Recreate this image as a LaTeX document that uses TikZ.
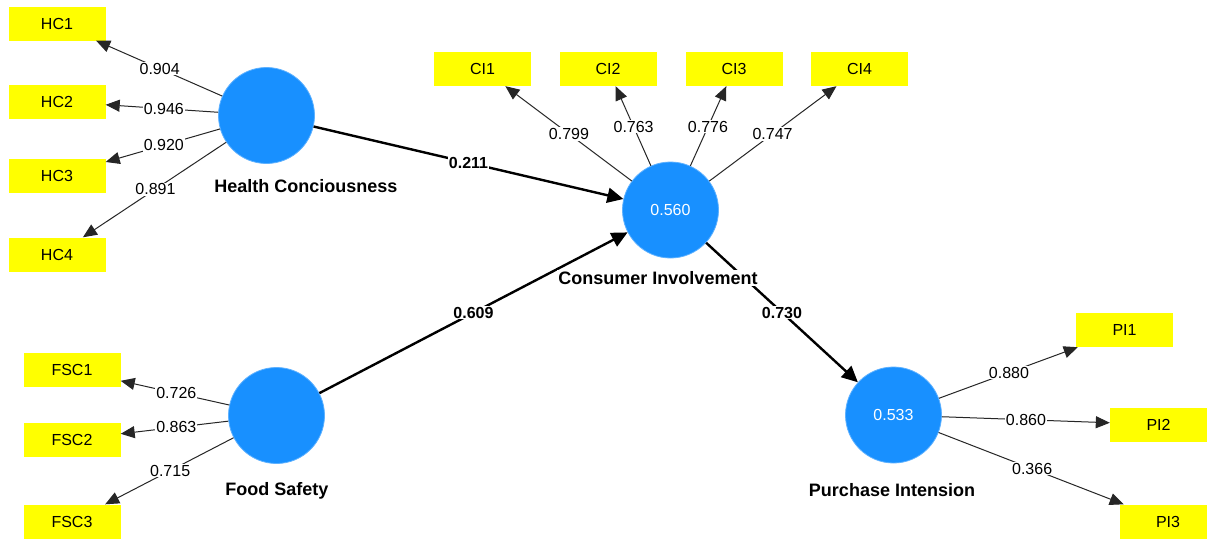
\documentclass[tikz,border=0pt]{standalone}
\usepackage{fontspec}
\setmainfont{Liberation Sans}
\usetikzlibrary{arrows.meta,calc}
\definecolor{lvblue}{RGB}{24,144,255}
\definecolor{indyellow}{RGB}{255,255,0}
\tikzset{
  latent/.style={circle, fill=lvblue, draw=lvblue!70!white, line width=0.8pt,
    minimum size=96pt, inner sep=0pt, text=white, font=\fontsize{16}{19}\selectfont},
  indicator/.style={rectangle, fill=indyellow, minimum width=97pt, minimum height=34pt,
    inner sep=0pt, font=\fontsize{16}{19}\selectfont},
  lvname/.style={fill=white, font=\fontsize{18}{21}\selectfont\bfseries, inner sep=1pt},
  loading/.style={draw=black!85, line width=1pt,
    -{Triangle[length=14pt,width=12pt]}},
  pathcoef/.style={draw=black, line width=2.4pt,
    -{Triangle[length=16pt,width=15pt]}},
  wlab/.style={fill=white, inner sep=1pt, font=\fontsize{16}{19}\selectfont},
  blab/.style={fill=white, inner sep=1pt, font=\fontsize{16}{19}\selectfont\bfseries},
}
\begin{document}
\begin{tikzpicture}[x=1pt,y=-1pt]
\clip (0,0) rectangle (1207,539);
\fill[white] (0,0) rectangle (1207,539);

% latent variables
\node[latent] (hc) at (266.5,115.5) {};
\node[latent] (ci) at (670.5,210) {0.560};
\node[latent] (fs) at (276.5,415.5) {};
\node[latent] (pi) at (893.5,415) {0.533};

% indicators
\node[indicator] (hc1) at (57,23.5) {HC1};
\node[indicator] (hc2) at (57,101.5) {HC2};
\node[indicator] (hc3) at (57,176) {HC3};
\node[indicator] (hc4) at (57,254.5) {HC4};

\node[indicator] (ci1) at (482.5,69) {CI1};
\node[indicator] (ci2) at (608,69) {CI2};
\node[indicator] (ci3) at (734,69) {CI3};
\node[indicator] (ci4) at (859.5,69) {CI4};

\node[indicator] (fsc1) at (72,370) {FSC1};
\node[indicator] (fsc2) at (72,439.5) {FSC2};
\node[indicator] (fsc3) at (72,521.5) {FSC3};

\node[indicator] (pi1) at (1124.5,330) {PI1};
\node[indicator] (pi2) at (1158.5,424.5) {PI2};
\node[indicator] (pi3) at (1168,521.5) {PI3};

% outer loadings; each weight sits on the centre-to-centre line
\draw[loading] (hc) -- (hc1) node[wlab] at ($(hc)!0.51!(hc1)$) {0.904};
\draw[loading] (hc) -- (hc2) node[wlab] at ($(hc)!0.49!(hc2)$) {0.946};
\draw[loading] (hc) -- (hc3) node[wlab] at ($(hc)!0.49!(hc3)$) {0.920};
\draw[loading] (hc) -- (hc4) node[wlab] at ($(hc)!0.53!(hc4)$) {0.891};

\draw[loading] (ci) -- (ci1) node[wlab] at ($(ci)!0.54!(ci1)$) {0.799};
\draw[loading] (ci) -- (ci2) node[wlab] at ($(ci)!0.59!(ci2)$) {0.763};
\draw[loading] (ci) -- (ci3) node[wlab] at ($(ci)!0.59!(ci3)$) {0.776};
\draw[loading] (ci) -- (ci4) node[wlab] at ($(ci)!0.54!(ci4)$) {0.747};

\draw[loading] (fs) -- (fsc1) node[wlab] at ($(fs)!0.49!(fsc1)$) {0.726};
\draw[loading] (fs) -- (fsc2) node[wlab] at ($(fs)!0.49!(fsc2)$) {0.863};
\draw[loading] (fs) -- (fsc3) node[wlab] at ($(fs)!0.52!(fsc3)$) {0.715};

\draw[loading] (pi) -- (pi1) node[wlab] at ($(pi)!0.50!(pi1)$) {0.880};
\draw[loading] (pi) -- (pi2) node[wlab] at ($(pi)!0.50!(pi2)$) {0.860};
\draw[loading] (pi) -- (pi3) node[wlab] at ($(pi)!0.505!(pi3)$) {0.366};

% path coefficients
\draw[pathcoef] (hc) -- (ci) node[blab] at ($(hc)!0.5!(ci)$) {0.211};
\draw[pathcoef] (fs) -- (ci) node[blab] at ($(fs)!0.5!(ci)$) {0.609};
\draw[pathcoef] (ci) -- (pi) node[blab] at ($(ci)!0.5!(pi)$) {0.730};

% construct names, drawn last so they sit over the connectors
\node[lvname] (hcl) at (306,186) {Health Conciousness};
\node[lvname] (cil) at (658,278) {Consumer Involvement};
\node[lvname] (fsl) at (277,491) {Food Safety};
\node[lvname] (pil) at (892,490) {Purchase Intension};
\end{tikzpicture}
\end{document}
